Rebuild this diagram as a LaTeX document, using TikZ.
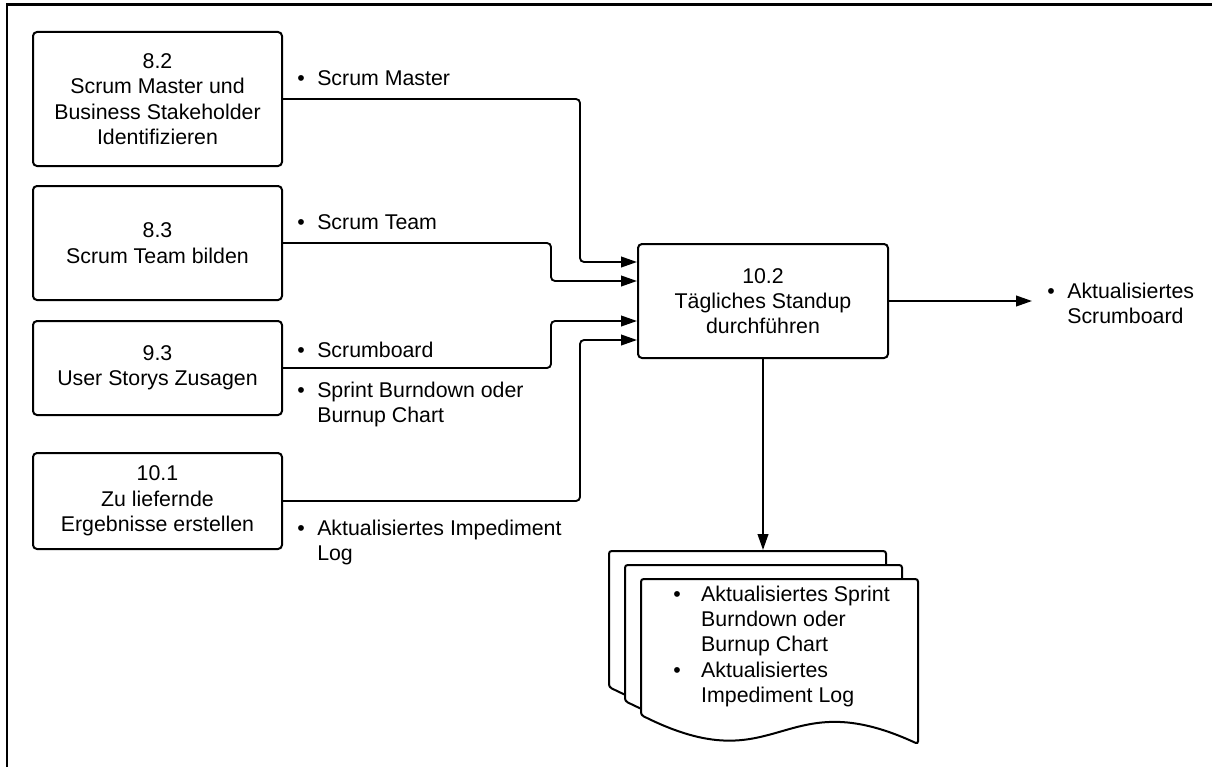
\documentclass[tikz,border=0pt]{standalone}
\usepackage{fontspec}
\setmainfont{Liberation Sans}
\usetikzlibrary{arrows.meta,calc}

\newcommand{\itm}[1][15pt]{\makebox[#1][l]{\textbullet}}
\newcommand{\ind}[1][15pt]{\hspace*{#1}}

\begin{document}
\begin{tikzpicture}[
  x=0.75pt, y=-0.75pt,
  every node/.style={inner sep=0pt},
  proc/.style={draw, line width=1.5pt, rounded corners=3pt, minimum width=186.75pt,
    align=center, font=\fontsize{16}{19}\selectfont},
  lbl/.style={anchor=base west, font=\fontsize{16}{19}\selectfont},
  % connectors: elbowed, filled triangle at the target
  arrow/.style={draw, line width=1.4pt, rounded corners=3pt,
    -{Triangle[length=12pt,width=8pt]}},
  page/.style={draw, fill=white, line width=1.5pt, rounded corners=2pt},
  frame/.style={draw, line width=2pt}]

  \useasboundingbox (0,0) rectangle (1212,767);
  \draw[frame] (7,767) -- (7,4.5) -- (1212,4.5);

  % process boxes
  \node[proc, minimum height=100.5pt] (sm)    at (157.5, 99) {8.2\\Scrum Master und\\Business Stakeholder\\Identifizieren};
  \node[proc, minimum height=85.5pt]  (team)  at (157.5,243) {8.3\\Scrum Team bilden};
  \node[proc, minimum height=70.5pt]  (board) at (157.5,368) {9.3\\User Storys Zusagen};
  \node[proc, minimum height=72pt]    (deliv) at (157.5,501) {10.1\\Zu liefernde\\Ergebnisse erstellen};
  \node[proc, minimum width=187.5pt, minimum height=85.5pt] (standup) at (763,301)
    {10.2\\Tägliches Standup\\durchführen};

  % output document stack
  \foreach \dx/\dy in {-32/-28, -16/-14, 0/0}
    \draw[page, shift={(\dx,\dy)}] (641,579) -- (918,579) -- (918,744)
      .. controls (780,680) and (780,785) .. (641,715) -- cycle;

  \coordinate (outR)   at (1032,301);
  \coordinate (doctop) at (763,550);

  % arrows
  \draw[arrow] (sm.east)    -- (580, 99) |- ($(standup.west)+(0,-39)$);
  \draw[arrow] (team.east)  -- (551,243) |- ($(standup.west)+(0,-20)$);
  \draw[arrow] (board.east) -- (551,368) |- ($(standup.west)+(0,20)$);
  \draw[arrow] (deliv.east) -- (580,501) |- ($(standup.west)+(0,39)$);
  \draw[arrow] (standup.east)  -- (outR);
  \draw[arrow] (standup.south) -- (doctop);

  % artefact labels
  \node[lbl] (lmaster) at (297, 85) {\itm Scrum Master};
  \node[lbl] (lteam)   at (297,229) {\itm Scrum Team};
  \node[lbl] (lboard)  at (297,357) {\itm Scrumboard};
  \node[lbl] (lburn)   at (297,397) {\begin{tabular}[t]{@{}l@{}}\itm Sprint Burndown oder\\\ind Burnup Chart\end{tabular}};
  \node[lbl] (limped)  at (297,535) {\begin{tabular}[t]{@{}l@{}}\itm Aktualisiertes Impediment\\\ind Log\end{tabular}};
  \node[lbl] (lout)    at (1047,298) {\begin{tabular}[t]{@{}l@{}}\itm Aktualisiertes\\\ind Scrumboard\end{tabular}};
  \node[lbl] (ldoc)    at (673,601) {\begin{tabular}[t]{@{}l@{}}\itm[16.5pt] Aktualisiertes Sprint\\\ind[16.5pt] Burndown oder\\
    \ind[16.5pt] Burnup Chart\\\itm[16.5pt] Aktualisiertes\\\ind[16.5pt] Impediment Log\end{tabular}};
\end{tikzpicture}
\end{document}
